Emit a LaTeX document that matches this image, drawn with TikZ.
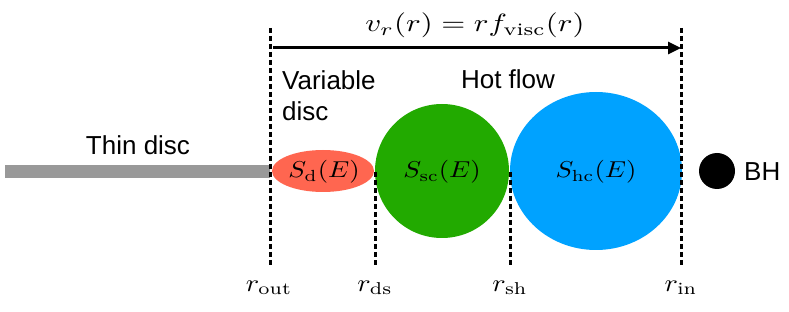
\documentclass[tikz,border=0pt]{standalone}
\usepackage{graphicx}
\usepackage{fontspec}
\setsansfont{Liberation Sans}
\usetikzlibrary{arrows.meta}
\definecolor{thingray}{HTML}{999999}
\definecolor{vdred}{HTML}{FF6650}
\definecolor{scgreen}{HTML}{22AA00}
\definecolor{hcblue}{HTML}{00A2FF}
\newcommand{\mbig}[3]{\scalebox{#1}[#2]{$#3$}}
\begin{document}
\begin{tikzpicture}[x=1pt,y=-1pt,
  radline/.style={line width=3pt, dash pattern=on 5pt off 3pt},
  lbl/.style={font=\sffamily\fontsize{26}{30}\selectfont, inner sep=0pt},
  mlbl/.style={font=\fontsize{10}{12}\selectfont, inner sep=0pt}]
\useasboundingbox (0,0) rectangle (789,312);
% thin disc
\fill[thingray] (5,165) rectangle (270,178);
\node[lbl, anchor=base] (thin) at (138,155) {Thin disc};
% blobs
\fill[vdred] (323,171) ellipse [x radius=51, y radius=21];
\node[mlbl] (sd) at (324,172) {\mbig{2.66}{2.3}{S_{\mathrm{d}}(E)}};
\fill[scgreen] (442,171) circle [radius=67];
\node[mlbl] (ssc) at (442,172) {\mbig{2.66}{2.3}{S_{\mathrm{sc}}(E)}};
\fill[hcblue] (596,171) ellipse [x radius=86, y radius=79];
\node[mlbl] (shc) at (596,172) {\mbig{2.66}{2.3}{S_{\mathrm{hc}}(E)}};
\fill[black] (717,171) circle [radius=18];
\node[lbl, anchor=west] (bh) at (744,172) {BH};
% radii
\coordinate (routtop) at (270,28);
\coordinate (routbot) at (270,267);
\coordinate (rdstop) at (375,172);
\coordinate (rdsbot) at (375,267);
\coordinate (rshtop) at (510,172);
\coordinate (rshbot) at (510,267);
\coordinate (rintop) at (681,28);
\coordinate (rinbot) at (681,267);
\draw[radline] (routtop) -- (routbot);
\draw[radline] (rdstop) -- (rdsbot);
\draw[radline] (rshtop) -- (rshbot);
\draw[radline] (rintop) -- (rinbot);
\node[mlbl, anchor=base] (rout) at (269,291) {\mbig{2.8}{2.45}{r_{\mathrm{out}}}};
\node[mlbl, anchor=base] (rds) at (375,291) {\mbig{2.8}{2.45}{r_{\mathrm{ds}}}};
\node[mlbl, anchor=base] (rsh) at (510,291) {\mbig{2.8}{2.45}{r_{\mathrm{sh}}}};
\node[mlbl, anchor=base] (rin) at (681,291) {\mbig{2.8}{2.45}{r_{\mathrm{in}}}};
% velocity arrow
\coordinate (astart) at (273,48);
\coordinate (aend) at (681,48);
\draw[line width=3pt, -{Triangle[length=13pt,width=12pt]}] (astart) -- (aend);
\node[mlbl, anchor=base] (vr) at (475,32) {\mbig{3.08}{2.5}{v_r(r) = r f_{\mathrm{visc}}(r)}};
% region labels
\node[lbl, anchor=base west] (var) at (282,90) {Variable};
\node[lbl, anchor=base west] (vdisc) at (282,121) {disc};
\node[lbl, anchor=base] (hot) at (508,89) {Hot flow};
\end{tikzpicture}
\end{document}
